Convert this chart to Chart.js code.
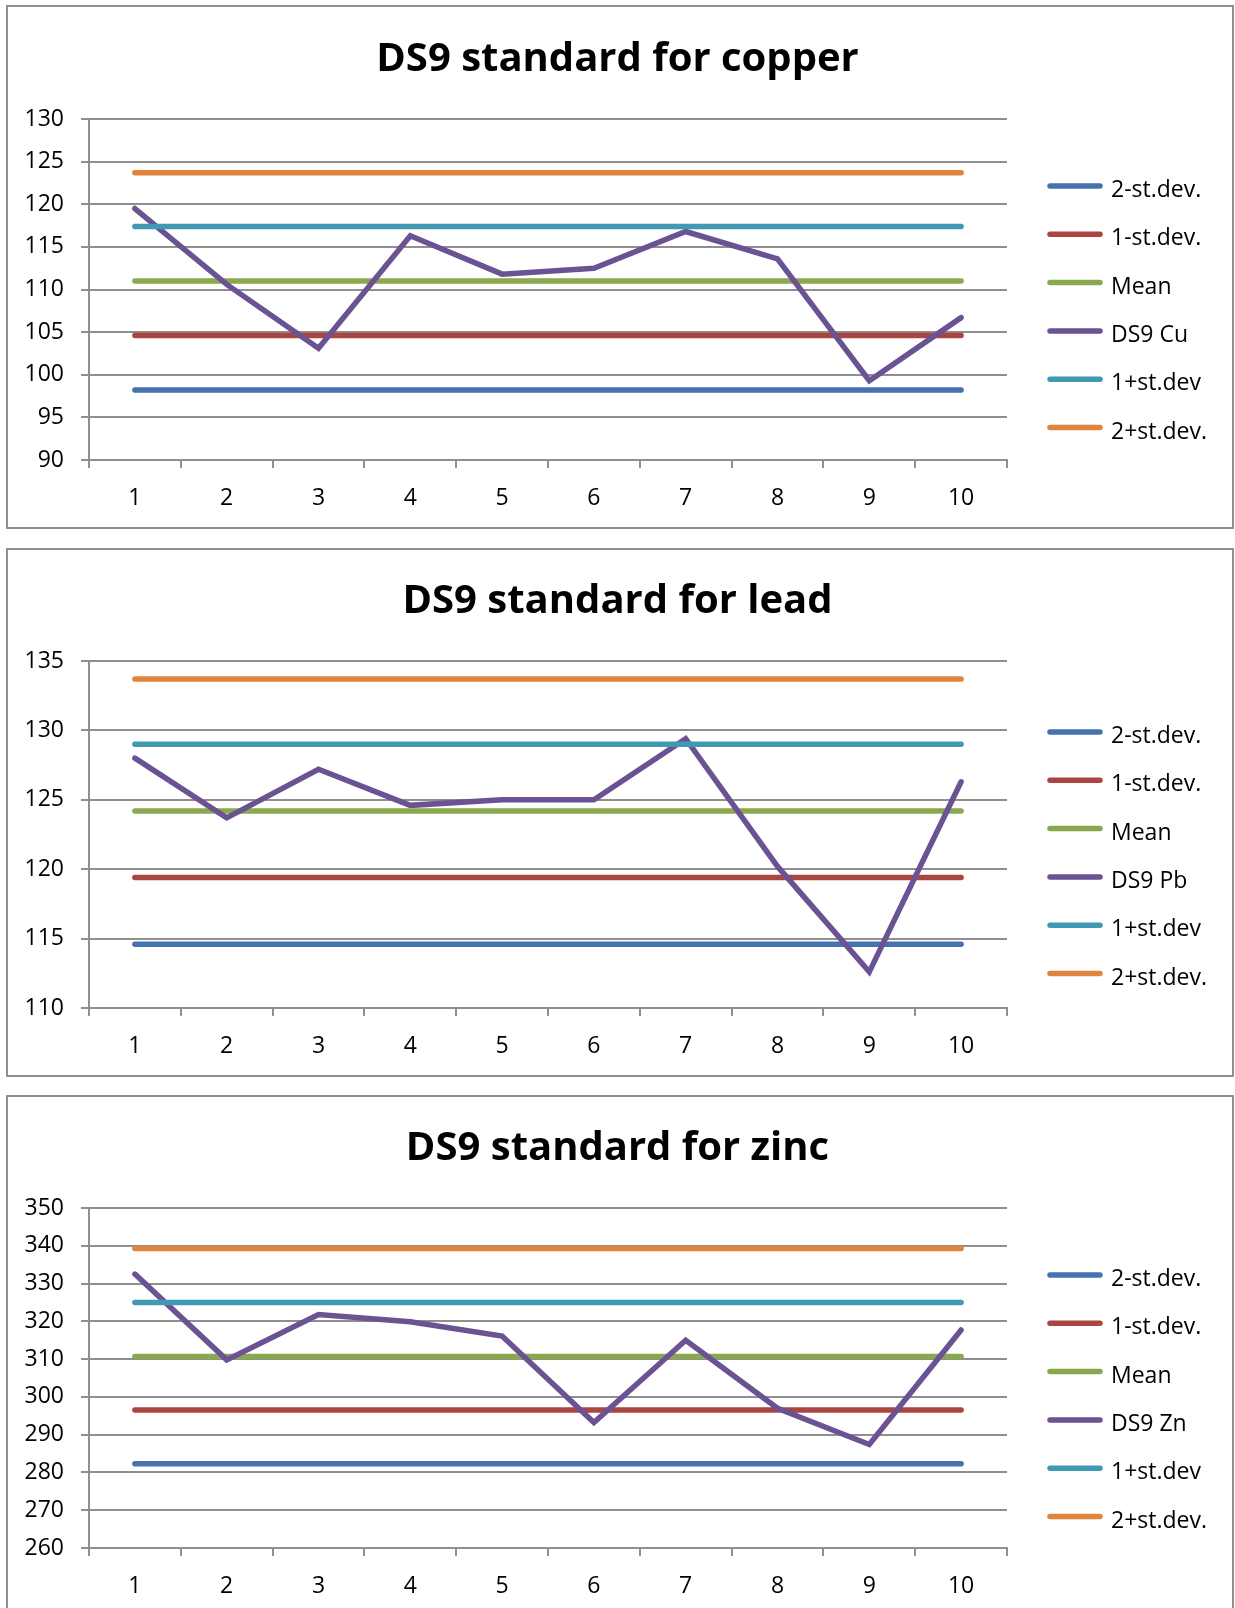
<!DOCTYPE html>
<html>
<head>
<meta charset="utf-8">
<title>DS9 standards</title>
<script src="https://cdn.jsdelivr.net/npm/chart.js@4.4.1/dist/chart.umd.min.js"></script>
<style>
    html, body { margin: 0; padding: 0; background: #fff; overflow: hidden; }
    body { width: 1235px; height: 1608px; position: relative; }
    .panel { position: absolute; left: 6px; width: 1228px; box-sizing: border-box; border: 2px solid #8f8f8f; }
    canvas { position: absolute; left: 0; }
</style>
</head>
<body>
<div class="panel" style="top:5px; height:524px;"></div>
<div class="panel" style="top:548px; height:529px;"></div>
<div class="panel" style="top:1095px; height:560px;"></div>
<canvas id="copperChart" width="1235" height="520" style="top:7px;"></canvas>
<canvas id="leadChart" width="1235" height="526" style="top:549px;"></canvas>
<canvas id="zincChart" width="1235" height="519" style="top:1096px;"></canvas>

<script>
const categories = ['1', '2', '3', '4', '5', '6', '7', '8', '9', '10'];
const bandNames = ['2-st.dev.', '1-st.dev.', 'Mean', '1+st.dev', '2+st.dev.'];
const lineColors = ['#4672ad', '#aa4542', '#8aa84e', '#6b5293', '#4199b4', '#e0843e'];

// copper
const cuMinus2 = [98.2, 98.2, 98.2, 98.2, 98.2, 98.2, 98.2, 98.2, 98.2, 98.2];
const cuMinus1 = [104.6, 104.6, 104.6, 104.6, 104.6, 104.6, 104.6, 104.6, 104.6, 104.6];
const cuMean = [111.0, 111.0, 111.0, 111.0, 111.0, 111.0, 111.0, 111.0, 111.0, 111.0];
const cuSample = [119.5, 110.6, 103.1, 116.3, 111.8, 112.5, 116.8, 113.6, 99.3, 106.7];
const cuPlus1 = [117.4, 117.4, 117.4, 117.4, 117.4, 117.4, 117.4, 117.4, 117.4, 117.4];
const cuPlus2 = [123.7, 123.7, 123.7, 123.7, 123.7, 123.7, 123.7, 123.7, 123.7, 123.7];
const cuTicks = [90, 95, 100, 105, 110, 115, 120, 125, 130];

// lead
const pbMinus2 = [114.6, 114.6, 114.6, 114.6, 114.6, 114.6, 114.6, 114.6, 114.6, 114.6];
const pbMinus1 = [119.4, 119.4, 119.4, 119.4, 119.4, 119.4, 119.4, 119.4, 119.4, 119.4];
const pbMean = [124.2, 124.2, 124.2, 124.2, 124.2, 124.2, 124.2, 124.2, 124.2, 124.2];
const pbSample = [128.0, 123.7, 127.2, 124.6, 125.0, 125.0, 129.4, 120.2, 112.6, 126.3];
const pbPlus1 = [129.0, 129.0, 129.0, 129.0, 129.0, 129.0, 129.0, 129.0, 129.0, 129.0];
const pbPlus2 = [133.7, 133.7, 133.7, 133.7, 133.7, 133.7, 133.7, 133.7, 133.7, 133.7];
const pbTicks = [110, 115, 120, 125, 130, 135];

// zinc
const znMinus2 = [282.3, 282.3, 282.3, 282.3, 282.3, 282.3, 282.3, 282.3, 282.3, 282.3];
const znMinus1 = [296.5, 296.5, 296.5, 296.5, 296.5, 296.5, 296.5, 296.5, 296.5, 296.5];
const znMean = [310.7, 310.7, 310.7, 310.7, 310.7, 310.7, 310.7, 310.7, 310.7, 310.7];
const znSample = [332.5, 309.8, 321.8, 319.9, 316.1, 293.2, 315.0, 297.0, 287.4, 317.7];
const znPlus1 = [325.0, 325.0, 325.0, 325.0, 325.0, 325.0, 325.0, 325.0, 325.0, 325.0];
const znPlus2 = [339.3, 339.3, 339.3, 339.3, 339.3, 339.3, 339.3, 339.3, 339.3, 339.3];
const znTicks = [260, 270, 280, 290, 300, 310, 320, 330, 340, 350];

const gridGray = '#8f8f8f';
const tickFont = { family: '"Open Sans"', size: 23 };

// legend drawn beside the plot, Excel style (line sample + label)
const sideLegend = {
    id: 'sideLegend',
    afterDraw(chart, args, opts) {
        const ctx = chart.ctx;
        const x0 = chart.chartArea.right + 43;
        ctx.save();
        ctx.font = '23px "Open Sans"';
        ctx.textBaseline = 'alphabetic';
        ctx.textAlign = 'left';
        chart.data.datasets.forEach((ds, i) => {
            const y = opts.top + i * opts.spacing;
            ctx.strokeStyle = ds.borderColor;
            ctx.lineWidth = 5.5;
            ctx.lineCap = 'round';
            ctx.beginPath();
            ctx.moveTo(x0, y);
            ctx.lineTo(x0 + 50, y);
            ctx.stroke();
            ctx.fillStyle = '#000';
            ctx.fillText(ds.label, x0 + 61, y + 11);
        });
        ctx.restore();
    }
};

function buildChart(canvasId, title, sampleName, series, ticks, legendTop) {
    const names = [bandNames[0], bandNames[1], bandNames[2], sampleName, bandNames[3], bandNames[4]];
    const datasets = series.map((values, i) => ({
        label: names[i],
        data: values,
        borderColor: lineColors[i],
        backgroundColor: lineColors[i],
        borderWidth: 5.5,
        borderCapStyle: 'round',
        borderJoinStyle: 'miter',
        pointRadius: 0,
        tension: 0,
        fill: false,
        order: series.length - 1 - i
    }));

    new Chart(document.getElementById(canvasId), {
        type: 'line',
        data: { labels: categories, datasets: datasets },
        plugins: [sideLegend],
        options: {
            responsive: false,
            animation: false,
            layout: { padding: 0 },
            plugins: {
                legend: { display: false },
                tooltip: { enabled: false },
                title: {
                    display: true,
                    text: title,
                    color: '#000',
                    font: { family: '"Open Sans"', weight: 'bold', size: 40, lineHeight: 1.2 },
                    padding: { top: 29, bottom: 35 }
                },
                sideLegend: { top: legendTop, spacing: 48.3 }
            },
            scales: {
                x: {
                    offset: true,
                    grid: { drawOnChartArea: false, drawTicks: true, tickLength: 8, color: gridGray, lineWidth: 2, offset: true },
                    border: { display: true, color: gridGray, width: 2 },
                    ticks: { color: '#000', font: tickFont, padding: 17, maxRotation: 0 },
                    afterFit(scale) { scale.height = 67; }
                },
                y: {
                    min: ticks[0],
                    max: ticks[ticks.length - 1],
                    ticks: { stepSize: ticks[1] - ticks[0], color: '#000', font: tickFont, padding: 17 },
                    grid: { color: gridGray, lineWidth: 2, tickLength: 8 },
                    border: { display: true, color: gridGray, width: 2 },
                    afterFit(scale) { scale.width = 89; }
                },
                // keeps room on the right for the legend
                legendRoom: {
                    position: 'right',
                    display: true,
                    grid: { display: false, drawTicks: false },
                    border: { display: false },
                    ticks: { display: false },
                    afterFit(scale) { scale.width = 228; }
                }
            }
        }
    });
}

document.addEventListener('DOMContentLoaded', () => {
    buildChart('copperChart', 'DS9 standard for copper', 'DS9 Cu',
        [cuMinus2, cuMinus1, cuMean, cuSample, cuPlus1, cuPlus2], cuTicks, 179);
    buildChart('leadChart', 'DS9 standard for lead', 'DS9 Pb',
        [pbMinus2, pbMinus1, pbMean, pbSample, pbPlus1, pbPlus2], pbTicks, 183);
    buildChart('zincChart', 'DS9 standard for zinc', 'DS9 Zn',
        [znMinus2, znMinus1, znMean, znSample, znPlus1, znPlus2], znTicks, 179);
});
</script>
</body>
</html>
